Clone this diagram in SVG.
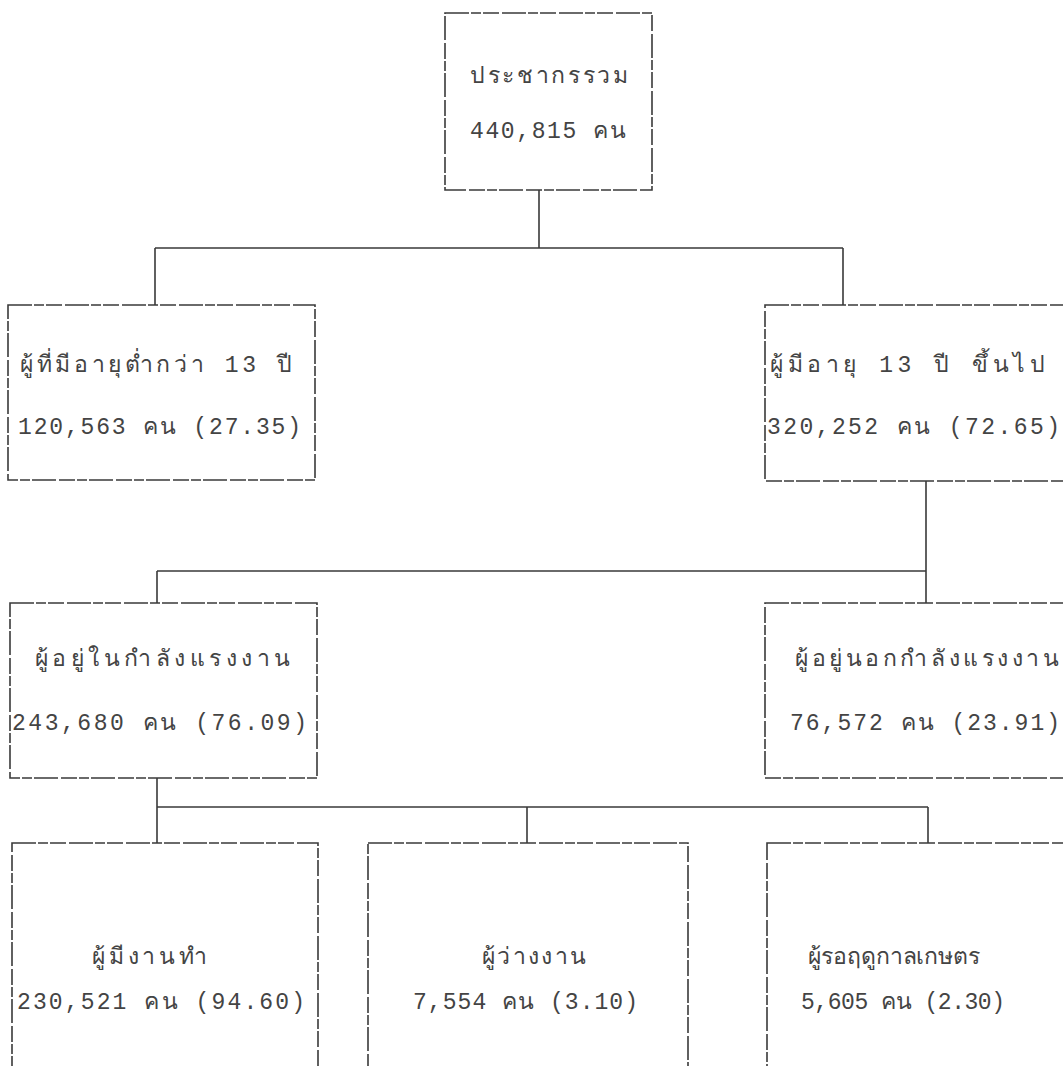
<svg xmlns="http://www.w3.org/2000/svg" width="1063" height="1066" viewBox="0 0 1063 1066">
<style>
.box{fill:none;stroke:#3a3a3a;stroke-width:1.6;stroke-dasharray:24 2 10 2 16 3}
.ln{fill:none;stroke:#3a3a3a;stroke-width:1.6}
text{font-family:"Liberation Mono","Noto Sans CJK SC",monospace;font-size:23px;fill:#444}
</style>
<rect width="1063" height="1066" fill="#fff"/>
<g id="connectors">
<path class="ln" d="M539 190V248M155 248H843M155 248V305M843 248V305"/>
<path class="ln" d="M926 481V571M157 571H926M157 571V603M926 571V603"/>
<path class="ln" d="M157 778V843M157 807H928M527 807V843M928 807V843"/>
</g>
<g id="n-total">
<rect class="box" x="445" y="13" width="207" height="177"/>
<text x="470" y="83" textLength="158" lengthAdjust="spacing">ประชากรรวม</text>
<text x="470" y="138" textLength="156" lengthAdjust="spacing">440,815 คน</text>
</g>
<g id="n-under13">
<rect class="box" x="8" y="305" width="307" height="175"/>
<text x="20" y="372" textLength="272" lengthAdjust="spacing">ผู้ที่มีอายุต่ำกว่า 13 ปี</text>
<text x="18" y="434" textLength="283" lengthAdjust="spacing">120,563 คน (27.35)</text>
</g>
<g id="n-over13">
<rect class="box" x="765" y="305" width="310" height="176"/>
<text x="770" y="372" textLength="275" lengthAdjust="spacing">ผู้มีอายุ 13 ปี ขึ้นไป</text>
<text x="767" y="434" textLength="293" lengthAdjust="spacing">320,252 คน (72.65)</text>
</g>
<g id="n-inlabor">
<rect class="box" x="10" y="603" width="307" height="175"/>
<text x="35" y="666" textLength="255" lengthAdjust="spacing">ผู้อยู่ในกำลังแรงงาน</text>
<text x="12" y="730" textLength="295" lengthAdjust="spacing">243,680 คน (76.09)</text>
</g>
<g id="n-outlabor">
<rect class="box" x="765" y="603" width="310" height="175"/>
<text x="795" y="666" textLength="264" lengthAdjust="spacing">ผู้อยู่นอกกำลังแรงงาน</text>
<text x="790" y="730" textLength="270" lengthAdjust="spacing">76,572 คน (23.91)</text>
</g>
<g id="n-employed">
<rect class="box" x="12" y="843" width="306" height="240"/>
<text x="92" y="964" textLength="115" lengthAdjust="spacing">ผู้มีงานทำ</text>
<text x="17" y="1009" textLength="288" lengthAdjust="spacing">230,521 คน (94.60)</text>
</g>
<g id="n-unemployed">
<rect class="box" x="368" y="843" width="320" height="240"/>
<text x="482" y="964" textLength="104" lengthAdjust="spacing">ผู้ว่างงาน</text>
<text x="413" y="1009" textLength="225" lengthAdjust="spacing">7,554 คน (3.10)</text>
</g>
<g id="n-seasonal">
<rect class="box" x="767" y="843" width="310" height="240"/>
<text x="808" y="964" textLength="172" lengthAdjust="spacing">ผู้รอฤดูกาลเกษตร</text>
<text x="801" y="1009" textLength="204" lengthAdjust="spacing">5,605 คน (2.30)</text>
</g>
</svg>
